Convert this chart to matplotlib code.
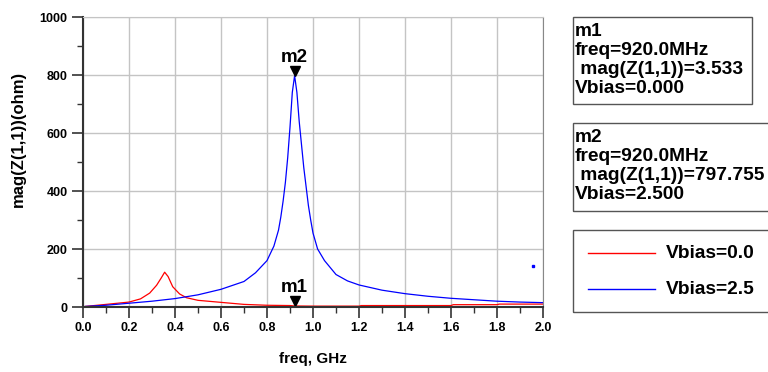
import matplotlib
matplotlib.use("Agg")
import matplotlib.pyplot as plt
import matplotlib.transforms as mtransforms
from matplotlib.patches import Rectangle
from matplotlib.lines import Line2D

plt.rcParams['font.family'] = ['Liberation Sans', 'DejaVu Sans']
plt.rcParams['font.weight'] = 'bold'

freq_blue = [0.01, 0.1, 0.2, 0.3, 0.4, 0.5, 0.6, 0.7, 0.75, 0.8, 0.83, 0.85, 0.86, 0.87, 0.88,
             0.89, 0.90, 0.91, 0.92, 0.93, 0.94, 0.95, 0.96, 0.97, 0.98, 0.99, 1.0, 1.02,
             1.05, 1.1, 1.15, 1.2, 1.3, 1.4, 1.5, 1.6, 1.7, 1.8, 1.9, 2.0]
mag_blue = [2, 6, 13, 20, 29, 42, 61, 88, 118, 160, 210, 265, 310, 365, 430,
            515, 620, 740, 797.755, 740, 640, 560, 480, 415, 350, 300, 255, 200,
            160, 112, 90, 76, 58, 46, 37, 30, 25, 20, 17, 15]

freq_red = [0.01, 0.1, 0.2, 0.25, 0.29, 0.32, 0.34, 0.355, 0.37, 0.39, 0.42, 0.45, 0.5,
            0.6, 0.7, 0.8, 0.9, 0.92, 1.0, 1.2, 1.21, 1.6, 1.61, 1.8, 1.81, 2.0]
mag_red = [2, 9, 17, 28, 48, 75, 100, 120, 105, 70, 45, 32, 23,
           16, 9, 6, 5, 3.533, 3, 3, 5, 5, 8, 8, 10, 10]

stray_freq = [1.958]
stray_mag = [141]

markers = {'m1': (0.92, 3.533), 'm2': (0.92, 797.755)}

x_major = [0.0, 0.2, 0.4, 0.6, 0.8, 1.0, 1.2, 1.4, 1.6, 1.8, 2.0]
x_minor = [0.1, 0.3, 0.5, 0.7, 0.9, 1.1, 1.3, 1.5, 1.7, 1.9]
y_major = [0, 200, 400, 600, 800, 1000]
y_minor = [100, 300, 500, 700, 900]

box1_lines = ['m1', 'freq=920.0MHz', ' mag(Z(1,1))=3.533', 'Vbias=0.000']
box2_lines = ['m2', 'freq=920.0MHz', ' mag(Z(1,1))=797.755', 'Vbias=2.500']
legend_labels = ['Vbias=0.0', 'Vbias=2.5']
legend_colors = ['#ff0000', '#0000ff']

fig = plt.figure(figsize=(7.68, 3.72), dpi=100)
ax = fig.add_axes([83/768, 1 - 307/372, 460/768, 290/372])

ax.plot(freq_red, mag_red, color='#ff0000', lw=0.9)
ax.plot(freq_blue, mag_blue, color='#0000ff', lw=0.9)
ax.plot(stray_freq, stray_mag, 's', color='#0000ff', ms=1.5)

ax.set_xlim(0, 2.0)
ax.set_ylim(0, 1000)
ax.set_xticks(x_major)
ax.set_xticklabels([f"{v:.1f}" for v in x_major])
ax.set_xticks(x_minor, minor=True)
ax.set_yticks(y_major)
ax.set_yticks(y_minor, minor=True)
ax.grid(True, which='major', color='#c4c4c4', lw=1.0)
ax.set_axisbelow(True)
ax.tick_params(axis='both', which='major', direction='out', length=8, width=1.2,
               labelsize=9, color='#333333', pad=3)
ax.tick_params(axis='both', which='minor', direction='out', length=4, width=1.0,
               color='#333333')
for lab in ax.get_xticklabels() + ax.get_yticklabels():
    lab.set_fontweight('bold')
for s in ['left', 'bottom']:
    ax.spines[s].set_color('#333333')
    ax.spines[s].set_linewidth(1.5)
ax.spines['top'].set_color('#c4c4c4')
ax.spines['right'].set_color('#888888')

xl = ax.set_xlabel('freq, GHz', fontsize=11, fontweight='bold')
yl = ax.set_ylabel('mag(Z(1,1))(ohm)', fontsize=12, fontweight='bold')
ax.xaxis.set_label_coords((313 - 83) / 460, (307 - 359) / 290)
ax.yaxis.set_label_coords((18 - 83) / 460, (307 - 138.5) / 290)
xl.set_va('center')
yl.set_va('center')

# markers: downward triangle whose tip sits on the data point
tri_ms = 6.5
for name, (mx, my) in markers.items():
    tr = mtransforms.offset_copy(ax.transData, fig=fig, x=0, y=tri_ms / 2, units='points')
    ax.plot([mx], [my], marker='v', color='black', ms=tri_ms, transform=tr,
            clip_on=False, linestyle='none')
    ax.annotate(name, xy=(mx, my), xytext=(0, tri_ms + 3.5), textcoords='offset points',
                ha='center', va='baseline', fontsize=13.5, fontweight='bold')

def px(x, y):
    return x / 768, 1 - y / 372

def box(x0, y0, x1, y1):
    a, b = px(x0, y1)
    fig.patches.append(Rectangle((a, b), (x1 - x0) / 768, (y1 - y0) / 372,
                                 transform=fig.transFigure, fill=False,
                                 edgecolor='#555555', lw=1.0))

box(573, 17, 752, 104)
for i, t in enumerate(box1_lines):
    fig.text(*px(575, 36 + i * 19), t, fontsize=13.8, fontweight='bold', va='baseline')

box(573, 123, 770, 211)
for i, t in enumerate(box2_lines):
    fig.text(*px(575, 142 + i * 19), t, fontsize=13.8, fontweight='bold', va='baseline')

box(573, 230, 770, 312)
for i, (lab, col) in enumerate(zip(legend_labels, legend_colors)):
    y = 253 + i * 36
    fig.add_artist(Line2D([588 / 768, 655 / 768], [1 - y / 372] * 2, color=col, lw=1.0,
                          transform=fig.transFigure))
    fig.text(*px(666, y + 5), lab, fontsize=13.8, fontweight='bold', va='baseline')

fig.savefig('out.png', dpi=100)
